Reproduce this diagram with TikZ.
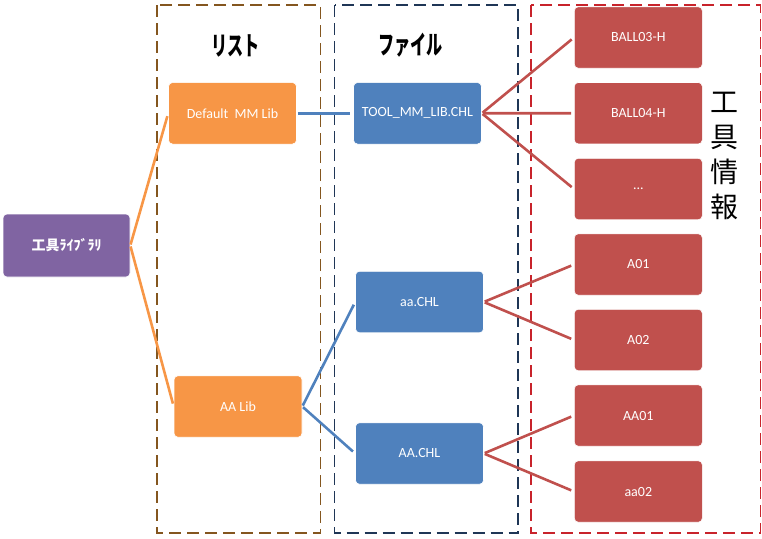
\documentclass[tikz,border=0pt]{standalone}
\usepackage{fontspec}
\usepackage{graphicx}
\setmainfont{Carlito}
\newfontfamily\jp{Noto Sans CJK JP}
\definecolor{cpurple}{HTML}{8064A2}
\definecolor{corange}{HTML}{F79646}
\definecolor{cblue}{HTML}{4F81BD}
\definecolor{cred}{HTML}{C0504D}
\definecolor{cbrown}{HTML}{84561F}
\definecolor{cnavy}{HTML}{1F3656}
\definecolor{cdred}{HTML}{C8232B}
\begin{document}
\begin{tikzpicture}[x=1pt,y=-1pt,
  box/.style={rounded corners=4pt, minimum width=128pt, minimum height=61.5pt,
    text=white, font=\fontsize{14}{16}\selectfont, inner sep=0pt, draw=white, line width=0.6pt},
  purplebox/.style={box, fill=cpurple, minimum width=127pt, minimum height=63pt},
  orangebox/.style={box, fill=corange},
  bluebox/.style={box, fill=cblue},
  redbox/.style={box, fill=cred},
  frame/.style={line width=1.8pt, dash pattern=on 12pt off 6pt},
  conn/.style={line width=2.6pt, shorten >=3pt, shorten <=1pt},
  head/.style={font=\jp\bfseries\fontsize{26}{28}\selectfont}
]
\useasboundingbox (0,0) rectangle (762,538);

% frames
\draw[frame, cbrown] (157,5) rectangle (320.5,533);
\draw[frame, cnavy] (334.5,5) rectangle (518,533);
\draw[frame, cdred] (531,5) rectangle (760.5,533);

% headings
\node[head] (hlist) at (235.5,45.5) {\scalebox{0.62}[1]{リスト}};
\node[head] (hfile) at (410.5,45.5) {\scalebox{0.62}[1]{ファイル}};
\node[font=\jp\fontsize{28}{35}\selectfont, align=center, inner sep=0pt] (hinfo) at (724,156) {工\\具\\情\\報};

% nodes
\node[purplebox, font=\jp\bfseries\fontsize{14}{16}\selectfont] (root) at (66.5,245.5) {工具ﾗｲﾌﾞﾗﾘ};
\node[orangebox] (def) at (232.5,113.3) {Default\ \ MM Lib};
\node[orangebox] (aalib) at (238,406.5) {AA Lib};
\node[bluebox] (tool) at (417.5,113.3) {TOOL\_MM\_LIB.CHL};
\node[bluebox] (aachl) at (419.5,302) {aa.CHL};
\node[bluebox] (AACHL) at (419.5,453.5) {AA.CHL};
\node[redbox] (b3) at (638.3,37.5) {BALL03-H};
\node[redbox] (b4) at (638.3,113.2) {BALL04-H};
\node[redbox] (dots) at (638.3,189) {...};
\node[redbox] (a01) at (638.3,264.5) {A01};
\node[redbox] (a02) at (638.3,340) {A02};
\node[redbox] (aa01) at (638.3,415.5) {AA01};
\node[redbox] (aa02) at (638.3,491.5) {aa02};

% connectors
\draw[conn, corange] (root.east) -- (def.west);
\draw[conn, corange] (root.east) -- (aalib.west);
\draw[conn, cblue] (def.east) -- (tool.west);
\draw[conn, cblue] (aalib.east) -- (aachl.west);
\draw[conn, cblue] (aalib.east) -- (AACHL.west);
\draw[conn, cred] (tool.east) -- (b3.west);
\draw[conn, cred] (tool.east) -- (b4.west);
\draw[conn, cred] (tool.east) -- (dots.west);
\draw[conn, cred] (aachl.east) -- (a01.west);
\draw[conn, cred] (aachl.east) -- (a02.west);
\draw[conn, cred] (AACHL.east) -- (aa01.west);
\draw[conn, cred] (AACHL.east) -- (aa02.west);
\end{tikzpicture}
\end{document}
